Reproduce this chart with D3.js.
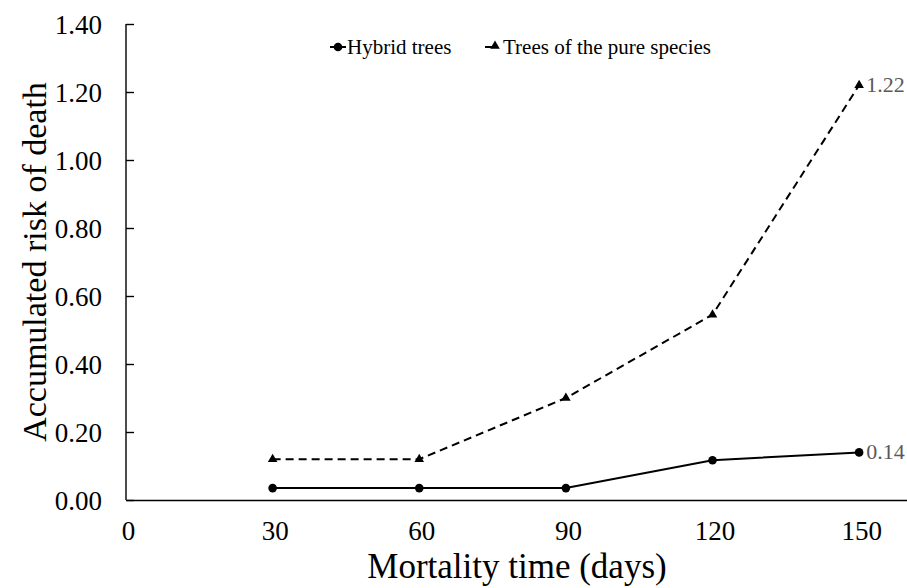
<!DOCTYPE html>
<html><head><meta charset="utf-8">
<script src="https://cdn.jsdelivr.net/npm/d3@7"></script>
<style>body{margin:0;background:#fff}svg{display:block}svg text{font-family:"Liberation Serif","Times New Roman",serif !important}</style>
</head><body><svg id="c" width="907" height="588"></svg>
<script>
const days = [30, 60, 90, 120, 150];
const hybrid = [0.035, 0.035, 0.035, 0.117, 0.14];
const pure = [0.12, 0.12, 0.30, 0.545, 1.22];
const xTicks = [0, 30, 60, 90, 120, 150];
const yTicks = [0, 0.2, 0.4, 0.6, 0.8, 1.0, 1.2, 1.4];
const seriesNames = ["Hybrid trees", "Trees of the pure species"];
const endLabels = ["0.14", "1.22"];

const svg = d3.select("#c");
const x = d3.scaleLinear().domain([0, 160]).range([126, 908]);
const y = d3.scaleLinear().domain([0, 1.4]).range([500, 24]);

// y axis (ticks pointing inward)
const ya = svg.append("g").attr("transform", "translate(126,0)")
  .call(d3.axisLeft(y).tickValues(yTicks).tickFormat(d3.format(".2f")).tickSize(-8).tickPadding(24));
ya.attr("font-family", null).attr("font-size", null);
ya.select(".domain").attr("stroke", "#000").attr("stroke-width", 1.4).attr("d", "M0,24V500");
ya.selectAll(".tick line").attr("stroke", "#000").attr("stroke-width", 1.4);
ya.selectAll(".tick text").style("font-size", "27px").attr("fill", "#000").attr("dy", "0.34em");

// x axis
const xa = svg.append("g").attr("transform", "translate(0,500)")
  .call(d3.axisBottom(x).tickValues(xTicks).tickSize(0).tickPadding(21));
xa.attr("font-family", null).attr("font-size", null);
xa.select(".domain").attr("stroke", "#000").attr("stroke-width", 1.4);
xa.selectAll(".tick text").style("font-size", "27px").attr("fill", "#000").attr("dy", "0.71em").attr("dx", 2);

// titles
svg.append("text").attr("x", 517).attr("y", 578).attr("text-anchor", "middle")
  .style("font-size", "35px").text("Mortality time (days)");
svg.append("text").attr("transform", "translate(46,262) rotate(-90)").attr("text-anchor", "middle")
  .style("font-size", "34px").text("Accumulated risk of death");

const line = d3.line().x((d, i) => x(days[i])).y(d => y(d));
svg.append("path").datum(pure).attr("d", line).attr("fill", "none").attr("stroke", "#000")
  .attr("stroke-width", 2).attr("stroke-dasharray", "8,5");
svg.append("path").datum(hybrid).attr("d", line).attr("fill", "none").attr("stroke", "#000")
  .attr("stroke-width", 2);

const tri = d3.symbol().type(d3.symbolTriangle).size(40);
svg.selectAll(".tp").data(pure).enter().append("path")
  .attr("d", tri).attr("transform", (d, i) => `translate(${x(days[i])},${y(d)})`).attr("fill", "#000");
svg.selectAll(".cp").data(hybrid).enter().append("circle")
  .attr("cx", (d, i) => x(days[i])).attr("cy", d => y(d)).attr("r", 4.3).attr("fill", "#000");

// end labels
svg.append("text").attr("x", x(150) + 7).attr("y", y(hybrid[4]) + 7).style("font-size", "22px").attr("fill", "#595959").text(endLabels[0]);
svg.append("text").attr("x", x(150) + 7).attr("y", y(pure[4]) + 7).style("font-size", "22px").attr("fill", "#595959").text(endLabels[1]);

// legend
const lg = svg.append("g");
lg.append("line").attr("x1", 330).attr("x2", 346).attr("y1", 47).attr("y2", 47).attr("stroke", "#000").attr("stroke-width", 2);
lg.append("circle").attr("cx", 338).attr("cy", 47).attr("r", 4.3).attr("fill", "#000");
lg.append("text").attr("x", 347).attr("y", 54).style("font-size", "21px").text(seriesNames[0]);
lg.append("line").attr("x1", 485).attr("x2", 492).attr("y1", 47).attr("y2", 47).attr("stroke", "#000").attr("stroke-width", 2);
lg.append("path").attr("d", tri).attr("transform", "translate(495,46)").attr("fill", "#000");
lg.append("text").attr("x", 503).attr("y", 54).style("font-size", "21px").text(seriesNames[1]);
</script></body></html>
